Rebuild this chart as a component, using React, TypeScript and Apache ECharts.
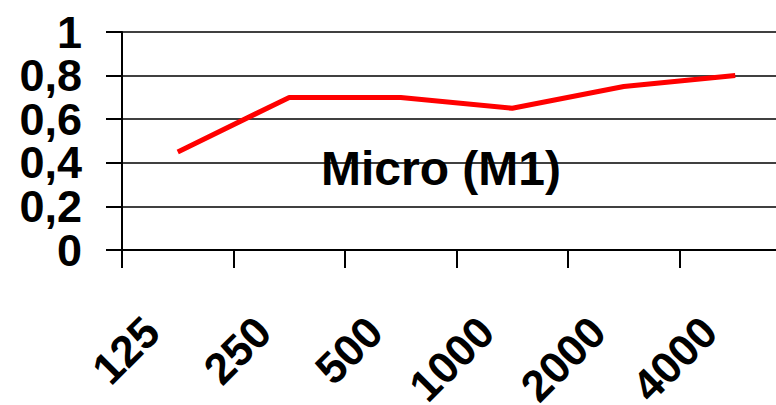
import React, { useEffect, useRef } from "react";
import * as echarts from "echarts";

const categories = ["125", "250", "500", "1000", "2000", "4000"];
const values = [0.45, 0.7, 0.7, 0.65, 0.75, 0.8];
const yTicksA = [0, 0.4, 0.8];
const yTicksB = [0.2, 0.6, 1];
const titleText = "Micro (M1)";

const FONT = '"Liberation Sans", Arial, sans-serif';

const fmt = (v: number) => String(Math.round(v * 10) / 10).replace(".", ",");

const yLabel = (customValues: number[]) => ({
  margin: 40,
  customValues,
  showMinLabel: true,
  showMaxLabel: true,
  hideOverlap: false,
  fontFamily: FONT,
  fontWeight: "bold",
  fontSize: 45,
  color: "#000",
  formatter: fmt,
});

export default function App() {
  const ref = useRef<HTMLDivElement>(null);
  useEffect(() => {
    if (!ref.current) return;
    const chart = echarts.init(ref.current, undefined, { renderer: "svg" });
    chart.setOption({
      animation: false,
      backgroundColor: "#ffffff",
      title: {
        text: titleText,
        left: 436,
        top: 139,
        textAlign: "center",
        textStyle: { fontFamily: FONT, fontWeight: "bold", fontSize: 48, color: "#000" },
      },
      grid: {
        left: 122,
        top: 32,
        bottom: 155,
        right: -15,
        containLabel: false,
        outerBoundsMode: "none",
      },
      xAxis: {
        type: "category",
        data: categories,
        boundaryGap: true,
        axisLine: { lineStyle: { color: "#000", width: 2 } },
        axisTick: { show: true, length: 18, lineStyle: { color: "#000", width: 2 }, alignWithLabel: false },
        axisLabel: {
          rotate: 45,
          interval: 0,
          margin: 48,
          padding: [0, 37, 0, 0],
          hideOverlap: false,
          fontFamily: FONT,
          fontWeight: "bold",
          fontSize: 44,
          color: "#000",
        },
        splitLine: { show: false },
      },
      yAxis: [
        {
          type: "value",
          min: 0,
          max: 1,
          interval: 0.2,
          position: "left",
          axisLine: { show: true, lineStyle: { color: "#000", width: 2 } },
          axisTick: { show: true, length: 16, lineStyle: { color: "#000", width: 2 } },
          axisLabel: yLabel(yTicksA),
          splitLine: { show: true, lineStyle: { color: "#000", width: 1.5 } },
        },
        {
          type: "value",
          min: 0,
          max: 1,
          interval: 0.2,
          position: "left",
          offset: 0,
          axisLine: { show: false },
          axisTick: { show: false },
          axisLabel: yLabel(yTicksB),
          splitLine: { show: false },
        },
      ],
      series: [
        {
          type: "line",
          yAxisIndex: 0,
          data: values,
          showSymbol: false,
          symbol: "none",
          lineStyle: { color: "#ff0000", width: 5 },
        },
      ],
    });
    return () => chart.dispose();
  }, []);
  return (
    <div
      ref={ref}
      style={{ position: "absolute", left: 0, top: 0, width: 776, height: 405, overflow: "hidden" }}
    />
  );
}
